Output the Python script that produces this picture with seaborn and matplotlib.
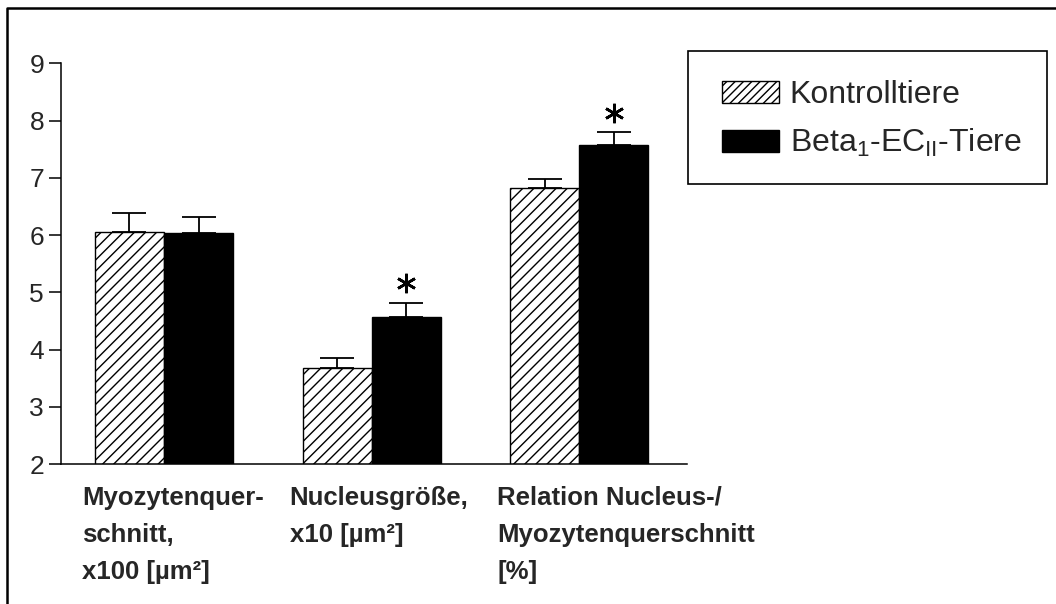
import matplotlib
matplotlib.use("Agg")
import matplotlib.pyplot as plt
from matplotlib.lines import Line2D
from matplotlib.patches import Patch, Rectangle
import matplotlib.transforms as mtransforms
import seaborn as sns
import pandas as pd
import numpy as np

categories = ["Myozytenquer-\nschnitt,\nx100 [µm²]",
              "Nucleusgröße,\nx10 [µm²]",
              "Relation Nucleus-/\nMyozytenquerschnitt\n[%]"]
groups = ["Kontrolltiere", "Beta$_1$-EC$_{II}$-Tiere"]
kontroll_values = [6.06, 3.68, 6.82]
kontroll_err = [0.32, 0.17, 0.16]
beta_values = [6.04, 4.57, 7.57]
beta_err = [0.28, 0.25, 0.23]
beta_significant = [False, True, True]
yticks = [2, 3, 4, 5, 6, 7, 8, 9]

sns.set_theme(style="white")
plt.rcParams['font.family'] = ['Liberation Sans', 'DejaVu Sans']
plt.rcParams['mathtext.fontset'] = 'custom'
plt.rcParams['mathtext.rm'] = 'Liberation Sans'
plt.rcParams['mathtext.it'] = 'Liberation Sans'
plt.rcParams['mathtext.default'] = 'regular'
plt.rcParams['hatch.linewidth'] = 1.0

df = pd.DataFrame({
    "cat": categories * 2,
    "group": [groups[0]] * 3 + [groups[1]] * 3,
    "value": kontroll_values + beta_values,
    "err": kontroll_err + beta_err,
})

fig = plt.figure(figsize=(10.56, 6.04), dpi=100)
ax = fig.add_axes([61 / 1056, 1 - 464 / 604, (687 - 61) / 1056, (464 - 63.3) / 604])

sns.barplot(data=df, x="cat", y="value", hue="group", hue_order=groups,
            palette=["white", "black"], width=0.665, gap=0, errorbar=None,
            edgecolor="black", linewidth=1.0, ax=ax, legend=False)

for bar in ax.containers[0]:
    bar.set_facecolor("white")
    bar.set_hatch("///")
    bar.set_edgecolor("black")
for bar in ax.containers[1]:
    bar.set_facecolor("black")
    bar.set_edgecolor("black")

# error bars (upper only)
errs = [kontroll_err, beta_err]
vals = [kontroll_values, beta_values]
for ci, cont in enumerate(ax.containers[:2]):
    xs = [b.get_x() + b.get_width() / 2 for b in cont]
    ax.errorbar(xs, vals[ci], yerr=[np.zeros(3), errs[ci]], fmt="none",
                ecolor="black", elinewidth=1.3, capsize=12, capthick=1.3, zorder=1)

# significance stars
for b, v, e, s in zip(ax.containers[1], beta_values, beta_err, beta_significant):
    if s:
        ax.plot(b.get_x() + b.get_width() / 2, v + e + 0.34, marker=(6, 2, 0),
                markersize=14, markeredgewidth=1.9, color="black", zorder=5)

ax.set_ylim(2, 9)
ax.set_xlim(-0.496, 2.518)
ax.set_yticks(yticks)
ax.set_yticklabels([str(t) for t in yticks], fontsize=19)
ax.tick_params(axis="y", direction="out", length=8.6, width=1.1, pad=3.6, left=True, color="black")
ax.tick_params(axis="x", length=0, pad=15.5)
ax.set_xlabel("")
ax.set_ylabel("")
for side in ["top", "right"]:
    ax.spines[side].set_visible(False)
for side in ["left", "bottom"]:
    ax.spines[side].set_color("black")
    ax.spines[side].set_linewidth(1.1)

offset = mtransforms.ScaledTranslation(-82 / 100, 0, fig.dpi_scale_trans)
ax.set_xticks(range(3))
ax.set_xticklabels(categories, fontsize=18.5, fontweight="bold", ha="left",
                   va="top", linespacing=1.7)
for lbl in ax.get_xticklabels():
    lbl.set_transform(lbl.get_transform() + offset)

# legend frame
fig.add_artist(Rectangle((688 / 1056, 1 - 184 / 604), (1047 - 688) / 1056, 133 / 604,
                         transform=fig.transFigure, fill=False, edgecolor="black",
                         linewidth=1.2))
handles = [Patch(facecolor="white", edgecolor="black", hatch="////", linewidth=1.0),
           Patch(facecolor="black", edgecolor="black", linewidth=1.0)]
leg = fig.legend(handles, groups, loc="upper left",
                 bbox_to_anchor=(722 / 1056, 1 - 80 / 604),
                 frameon=False, fontsize=23, handlelength=1.78, handleheight=0.7,
                 handletextpad=0.34, labelspacing=0.53, borderaxespad=0, borderpad=0)

# figure border (top and left)
fig.add_artist(Line2D([7 / 1056, 7 / 1056, 1.0], [0.0, 1 - 8 / 604, 1 - 8 / 604],
                      transform=fig.transFigure, color="black", linewidth=1.8))

fig.savefig("out.png", dpi=100)
